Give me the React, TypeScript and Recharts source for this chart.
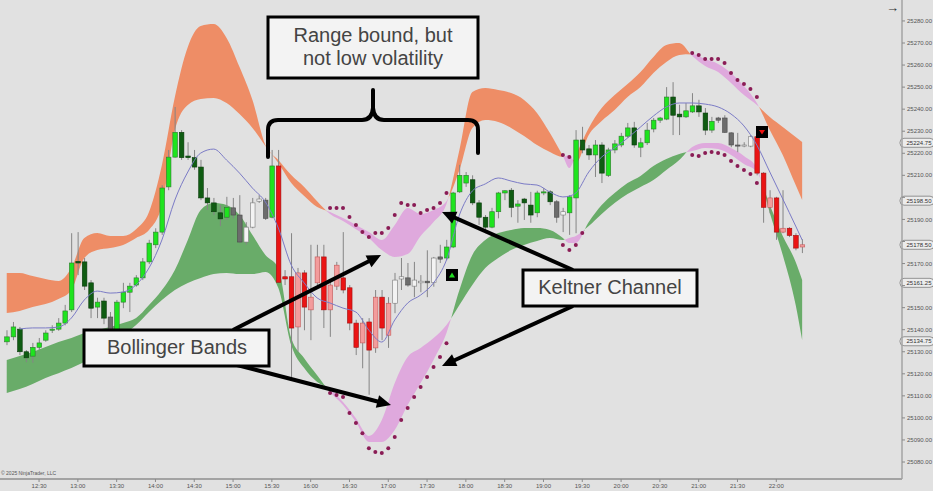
import React from 'react';
import { ComposedChart, XAxis, YAxis, Bar, Line, Area, ReferenceLine } from 'recharts';

const FONT = "'Liberation Sans', Arial, sans-serif";

// ---------- data ----------
const firstCandle = '12:05';
const candleMinutes = 5;

const openP = [25134.5,25136.75,25140.25,25130,25128,25132,25135.25,25139.75,25140.25,25143,
 25149,25171,25170.75,25161.25,25150.25,25153,25145.75,25139.75,25152.5,25157,
 25160.25,25163.5,25170.75,25178.5,25184.25,25204.75,25218.25,25229.5,25218.75,25218,
 25213.75,25199.75,25197.5,25193,25191,25195.25,25192,25179.75,25186.5,25198.25,
 25198.75,25191,25214.25,25164,25164,25141.25,25165.75,25149,25161.25,25173,
 25149,25159.75,25163.5,25159,25143,25134,25143.5,25131.75,25154.75,25137.5,
 25152,25163,25163.5,25159.75,25161.25,25162,25161.5,25173,25172.5,25177.5,
 25202.5,25206.5,25208,25197.5,25191,25186.5,25193.5,25202,25203.25,25196,
 25199.25,25196.5,25193,25202,25202.5,25198,25192,25193,25199.75,25226,
 25222,25219.25,25223.75,25210,25221.5,25223.75,25227.75,25231.5,25222.75,25224.75,
 25231,25235,25235.5,25245.5,25237.75,25236.5,25238.75,25241.5,25238.25,25230.5,
 25236,25236,25229.25,25223.75,25223.25,25223.25,25227.5,25211,25195.5,25199.75,
 25184.25,25186,25182.75,25177.5];

const highP = [25139.75,25143.5,25141.25,25130.75,25134,25136.25,25139.75,25142,25145.25,25151.25,
 25183.75,25184.25,25172.5,25162.5,25154.5,25154.5,25148,25153.5,25161.25,25161.25,
 25164.75,25172.5,25180.75,25186,25205.5,25221.5,25241,25230.5,25225,25221.5,
 25217,25204.25,25199.75,25196.5,25200.25,25199.75,25201,25188.75,25199.75,25201,
 25199.75,25221.5,25221.5,25167,25183.75,25168,25167,25178.5,25178.5,25178.5,
 25162.5,25170.75,25184.25,25160.25,25144.5,25145.25,25145.25,25158,25158,25154.75,
 25165.75,25172.5,25170.25,25170.75,25164.75,25176,25173,25178.5,25180.75,25202.5,
 25214.75,25211.5,25210,25198.75,25192,25195.25,25202.5,25203.25,25204.25,25198.75,
 25199.75,25202.5,25203,25204.25,25203.25,25198.75,25195.25,25201,25230.5,25232,
 25223.75,25226,25225,25222.5,25226,25229.25,25233.75,25234.25,25227,25233.75,
 25236,25236.5,25250,25252.25,25242,25242.75,25247.25,25244.25,25240.5,25236.5,
 25236.5,25237.25,25229.5,25229.25,25225,25228.25,25229.25,25211.5,25203.25,25200.25,
 25203.25,25186.5,25183.75,25181];

const lowP = [25133,25135.25,25128.5,25125.25,25125,25130.75,25134.5,25138.5,25139.5,25142,
 25148,25164.75,25158,25145.25,25145.25,25142.5,25137.5,25139,25149.75,25148,
 25159.5,25162.5,25169.75,25177,25183,25203.25,25218,25217,25217,25212.5,
 25198.75,25194.25,25192,25187,25189.75,25190.5,25179.25,25178.5,25186,25197.5,
 25189.75,25190.5,25161.25,25160.25,25118.5,25130,25139.75,25135.25,25160.25,25140.75,
 25136.75,25158,25156.5,25139.75,25128.5,25122.5,25110.5,25129.5,25135.25,25131.75,
 25147.5,25158,25159.5,25154.75,25157,25154.75,25159.5,25170.25,25171.5,25177,
 25202,25204.75,25196.5,25187.5,25183.75,25186,25190.5,25198.75,25191,25188.5,
 25189.75,25188.5,25191,25201,25196.5,25188.5,25184.25,25183,25183.75,25220,
 25217,25209.25,25206.5,25209.25,25220,25222.75,25227,25222.5,25218.25,25223.75,
 25229.5,25233.75,25235,25228.25,25228.25,25236,25238.25,25236.5,25228.25,25229.25,
 25233.75,25229.25,25222.75,25220.5,25222.75,25222.75,25210,25188.5,25192.75,25180.75,
 25183.75,25182,25176,25174.75];

const closeP = [25136.75,25141.25,25130,25127.25,25132,25134,25138.5,25140.25,25143,25148.5,
 25170.25,25170.25,25159.75,25149.75,25152.5,25145.25,25139.75,25152.5,25157,25159.75,
 25163.5,25170.75,25179.25,25184.25,25204.25,25218.25,25229.5,25218,25218,25213.75,
 25199.75,25197.5,25193.5,25190.25,25195.5,25192,25179.75,25186.5,25197.5,25199.25,
 25190.5,25214.25,25161.5,25163,25140.75,25165.75,25150.25,25154.75,25173,25149,
 25160.25,25169.25,25158,25143,25132,25143,25130.75,25154.75,25140.75,25152,
 25162.5,25164,25160.25,25162.5,25162,25161.25,25172.5,25172,25177.5,25202,
 25210,25210,25197.5,25191,25186.5,25193.5,25202,25203,25195.5,25197,
 25197.5,25192,25202,25202.5,25198,25191,25193.5,25200.25,25226,25221.5,
 25219.25,25223.75,25211,25221.5,25224.25,25227.75,25231.5,25223.75,25224.75,25230.5,
 25235,25236,25245.5,25237.25,25236.5,25239.25,25241.5,25238.75,25230.5,25234.5,
 25235,25229.5,25223.75,25223.25,25223.75,25227.5,25211,25195.5,25199.75,25184.25,
 25186,25182.75,25177,25178.5];

// trend colouring of each bar: g = up-trend, r = down-trend, n = neutral
const trendCode =
  'gggggggggggggggg' + 'n' + 'gggggggggggggggggg' + 'nnnnnn' + 'g' +
  'rrrrrrrrrrrrrrrrrr' + 'nnnnnnnn' + 'ggggggggggggggggg' + 'nn' +
  'ggggggggggggggggggggggg' + 'nnnnnn' + 'rrrrrrrr';

const bandIdx = [0,2,4,6,8,10,12,14,16,18,20,22,24,26,28,30,32,34,36,38,40,42,44,46,48,50,52,54,56,58,
 60,62,64,66,68,70,72,74,76,78,80,82,84,86,87,88,90,92,94,96,98,100,102,104,106,108,110,112,114,116,118,120,122,123];

const bbUpper = [25165.7,25165.7,25164.3,25163.0,25162.1,25168.0,25181.6,25183.8,25182.5,25182.5,
 25185.6,25193.4,25214.7,25245.5,25268.2,25277.7,25278.6,25272.3,25259.1,25244.2,
 25223.7,25216.9,25210.1,25204.7,25198.3,25192.5,25189.3,25185.6,25181.6,25176.1,
 25173.0,25174.3,25182.5,25188.8,25197.0,25221.5,25247.8,25249.6,25248.7,25247.3,
 25244.2,25238.3,25229.2,25218.8,25213.3,25219.2,25231.5,25240.5,25246.4,25251.4,
 25256.9,25263.7,25269.1,25270.0,25264.1,25259.6,25256.9,25251.9,25246.4,25241.9,
 25236.4,25231.9,25227.4,25225.1];

const kcUpper = [25147.6,25148.5,25150.3,25151.6,25153.9,25158.0,25172.5,25176.1,25177.0,25178.4,
 25181.6,25185.2,25196.5,25230.5,25241.9,25244.6,25245.1,25242.8,25237.8,25231.5,
 25223.3,25215.6,25206.5,25200.6,25195.6,25193.4,25190.6,25187.5,25184.3,25180.7,
 25187.5,25195.2,25192.5,25194.3,25198.3,25212.4,25231.5,25235.1,25234.2,25231.5,
 25227.8,25223.7,25220.6,25218.3,25219.2,25215.6,25228.3,25234.6,25239.6,25245.5,
 25250.0,25256.4,25261.4,25264.6,25265.0,25262.7,25260.5,25256.4,25250.5,25242.8,
 25230.5,25219.2,25205.6,25198.8];

const kcLower = [25126.3,25128.1,25129.9,25132.1,25134.4,25136.2,25138.5,25139.8,25141.2,25143.0,
 25145.3,25151.2,25158.0,25167.1,25180.7,25194.3,25197.4,25196.5,25192.0,25182.9,
 25173.9,25168.0,25136.2,25127.1,25119.4,25111.7,25105.8,25098.1,25089.1,25089.1,
 25094.5,25105.8,25115.8,25126.3,25138.5,25158.0,25173.9,25180.7,25183.8,25185.2,
 25186.1,25186.1,25185.2,25181.6,25179.3,25179.3,25188.8,25196.5,25202.0,25206.5,
 25209.7,25214.2,25217.4,25219.7,25221.0,25222.4,25221.9,25219.2,25215.1,25211.5,
 25196.5,25182.5,25170.7,25162.5];

const bbLower = [25111.3,25113.1,25115.4,25118.1,25120.3,25122.6,25125.3,25128.5,25133.0,25137.6,
 25142.1,25148.0,25153.5,25158.0,25161.2,25163.4,25165.2,25165.7,25165.2,25165.2,
 25166.2,25158.9,25133.0,25122.6,25116.3,25113.1,25107.2,25099.9,25091.8,25099.0,
 25115.8,25127.6,25131.7,25136.2,25142.1,25151.2,25160.3,25168.0,25172.5,25176.1,
 25178.4,25180.2,25181.6,25180.7,25181.6,25182.5,25187.0,25192.5,25197.4,25201.5,
 25204.7,25207.9,25212.4,25216.9,25222.8,25224.7,25224.7,25222.4,25218.8,25213.3,
 25192.9,25173.9,25151.2,25135.3];

const midLine = [null,25140.3,25140.8,25140.8,25141.2,25145.3,25153.5,25157.5,25156.6,25157.1,
 25160.3,25168.0,25180.7,25198.8,25211.5,25220.1,25221.9,25216.9,25211.0,25204.2,
 25197.9,25186.1,25169.3,25161.2,25154.4,25152.1,25149.8,25148.0,25139.8,25134.4,
 25144.4,25152.1,25155.7,25161.2,25171.6,25192.0,25202.9,25206.1,25208.8,25207.4,
 25206.1,25205.6,25202.4,25200.2,25200.6,25202.0,25211.5,25218.3,25222.4,25226.9,
 25231.9,25236.9,25241.0,25242.8,25242.8,25242.3,25241.0,25237.8,25232.4,25223.7,
 25211.5,25199.3,25187.0,25180.7];

const upDotIdx = [50,51,52,53,54,55,56,57,58,59,60,61,62,63,64,65,66,67,68,86,87,106,107,108,109,110,111,112,113,114,115,116];
const upDotVal = [25195.2,25195.2,25195.2,25191.1,25187.5,25184.3,25182.0,25183.8,25183.8,25186.1,
 25192.0,25197.4,25196.5,25196.5,25192.9,25194.3,25195.2,25197.4,25202.0,25219.2,25218.3,
 25265.5,25264.6,25262.7,25262.7,25262.7,25260.9,25256.4,25253.2,25251.4,25249.1,25245.5];

const loDotIdx = [50,51,52,53,54,55,56,57,58,59,60,61,62,63,64,65,66,67,68,86,87,88,89,106,107,108,109,110,111,112,113,114,115,116];
const loDotVal = [25111.3,25110.4,25109.5,25102.2,25097.7,25093.1,25086.3,25084.5,25084.1,25086.3,
 25091.3,25099.0,25104.5,25109.5,25114.0,25118.5,25123.1,25127.6,25133.9,25178.4,25176.1,25178.4,25183.8,
 25219.2,25218.8,25220.1,25220.6,25220.1,25219.2,25216.5,25214.2,25212.4,25210.6,25206.5];

const timeTicks = ['12:30','13:00','13:30','14:00','14:30','15:00','15:30','16:00','16:30','17:00',
 '17:30','18:00','18:30','19:00','19:30','20:00','20:30','21:00','21:30','22:00'];
const priceTicks = [25080,25090,25100,25110,25120,25130,25140,25150,25160,25170,25180,25190,25200,
 25210,25220,25230,25240,25250,25260,25270,25280];
const priceMarkers = [25224.75, 25198.5, 25178.5, 25161.25, 25134.75];

// ---------- derived tables ----------
const toMin = (s: string) => { const [h, m] = s.split(':').map(Number); return h * 60 + m; };
const pad = (n: number) => (n < 10 ? '0' + n : '' + n);
const fmtTime = (t: number) => `${Math.floor(t / 60)}:${pad(t % 60)}`;
const t0 = toMin(firstCandle);
const tOf = (i: number) => t0 + i * candleMinutes;

const candles = openP.map((o, i) => ({ t: tOf(i), o, h: highP[i], l: lowP[i], c: closeP[i], k: trendCode[i] }));
const bands = bandIdx.map((i, j) => ({
  t: tOf(i), bbU: bbUpper[j], kcU: kcUpper[j], kcL: kcLower[j], bbL: bbLower[j], mid: midLine[j],
}));
const upDots = upDotIdx.map((i, j) => ({ t: tOf(i), v: upDotVal[j] }));
const loDots = loDotIdx.map((i, j) => ({ t: tOf(i), v: loDotVal[j] }));
const tickTimes = timeTicks.map(toMin);

const ORANGE = '#ee8d66';
const PINK = '#dfa9dd';
const GREEN = '#69ac69';

function crossStops(rows: any[], a: string, b: string, colA: string, colB: string) {
  const s0 = rows[0].t;
  const span = rows[rows.length - 1].t - s0;
  const stops: [number, string][] = [];
  let pos = rows[0][a] >= rows[0][b];
  stops.push([0, pos ? colA : colB]);
  for (let j = 1; j < rows.length; j++) {
    const d1 = rows[j][a] - rows[j][b];
    const p = d1 >= 0;
    if (p !== pos) {
      const d0 = rows[j - 1][a] - rows[j - 1][b];
      const f = d0 / (d0 - d1);
      const tc = rows[j - 1].t + f * (rows[j].t - rows[j - 1].t);
      const off = (tc - s0) / span;
      stops.push([off, pos ? colA : colB]);
      stops.push([off, p ? colA : colB]);
      pos = p;
    }
  }
  stops.push([1, pos ? colA : colB]);
  return stops;
}
const upperStops = crossStops(bands, 'bbU', 'kcU', ORANGE, PINK);
const lowerStops = crossStops(bands, 'kcL', 'bbL', GREEN, PINK);

const CANDLE_COLORS: Record<string, [string, string]> = {
  gU: ['#1ee41e', '#2f7a2f'],
  gD: ['#0f5c12', '#093a0b'],
  rU: ['#f39c9c', '#c45858'],
  rD: ['#ea1414', '#a01010'],
  nU: ['#f3f3f3', '#7a7a7a'],
  nD: ['#6c6c6c', '#4a4a4a'],
};

function Candle(props: any) {
  const { x, y, width, height } = props;
  const p = props.payload ?? props;
  if (x == null || y == null || p == null || p.h == null) return null;
  const top = Math.min(y, y + height);
  const h = Math.abs(height);
  const span = p.h - p.l;
  const py = (v: number) => (span > 0 ? top + ((p.h - v) / span) * h : top);
  const cx = x + width / 2;
  const up = p.c >= p.o;
  const [fill, stroke] = CANDLE_COLORS[p.k + (up ? 'U' : 'D')];
  const bTop = py(Math.max(p.o, p.c));
  const bBot = py(Math.min(p.o, p.c));
  const bw = 4.6;
  return (
    <g>
      <line x1={cx} x2={cx} y1={top} y2={top + h} stroke="#858585" strokeWidth={1} />
      <rect x={cx - bw / 2} y={bTop} width={bw} height={Math.max(1, bBot - bTop)} fill={fill} stroke={stroke} strokeWidth={0.6} />
    </g>
  );
}

// y-axis labels that sit under a price marker are covered by it in the reference
function PriceTick(props: any) {
  const { x, y, payload } = props;
  const v = payload?.value;
  if (v == null) return <g />;
  if (priceMarkers.some((m) => Math.abs(m - v) < 2.6)) return <g />;
  return (
    <text x={x} y={y} dy="0.355em" textAnchor="start" fontSize={6} fill="#555" fontFamily={FONT}>
      {Number(v).toFixed(2)}
    </text>
  );
}

const markerLabel = (v: number) => (props: any) => {
  const vb = props.viewBox;
  if (!vb) return null;
  const x = vb.x + vb.width;
  const y = vb.y;
  return (
    <g>
      <rect x={x - 2} y={y - 4.5} width={34} height={9} rx={4} fill="#ececec" stroke="#7c7c7c" strokeWidth={0.8} />
      <text x={x + 4.5} y={y + 2.2} fontSize={6} fill="#333" fontFamily={FONT}>{v.toFixed(2)}</text>
    </g>
  );
};

function Arrow({ x1, y1, x2, y2 }: { x1: number; y1: number; x2: number; y2: number }) {
  const dx = x2 - x1, dy = y2 - y1;
  const len = Math.hypot(dx, dy);
  const ux = dx / len, uy = dy / len;
  const hl = 14, hw = 6.5;
  const bx = x2 - ux * hl, by = y2 - uy * hl;
  const pts = `${x2},${y2} ${bx - uy * hw},${by + ux * hw} ${bx + uy * hw},${by - ux * hw}`;
  return (
    <g>
      <line x1={x1} y1={y1} x2={bx + ux * 2} y2={by + uy * 2} stroke="#000" strokeWidth={4} />
      <polygon points={pts} fill="#000" />
    </g>
  );
}

function Annotations() {
  const boxStyle = { fill: '#f3f3f3', stroke: '#000', strokeWidth: 3 };
  const txt = { fontFamily: FONT, fontSize: 20, fill: '#444', textAnchor: 'middle' as const };
  return (
    <svg width={933} height={491} style={{ position: 'absolute', left: 0, top: 0, pointerEvents: 'none' }}>
      <path
        d="M 268 157 L 268 130 Q 268 120 278 120 L 362 120 Q 372 120 373 108 L 373 90 M 373 108 Q 374 120 384 120 L 468 120 Q 478 120 478 130 L 478 153"
        fill="none" stroke="#000" strokeWidth={4} strokeLinecap="round" strokeLinejoin="round"
      />
      <rect x={268} y={17} width={210} height={61} {...boxStyle} />
      <text x={373} y={42} {...txt}>Range bound, but</text>
      <text x={373} y={65} {...txt}>not low volatility</text>

      <Arrow x1={233} y1={330} x2={381} y2={255} />
      <Arrow x1={237} y1={365} x2={391} y2={405} />
      <rect x={84} y={330} width={185} height={36} {...boxStyle} />
      <text x={177} y={354} {...txt}>Bollinger Bands</text>

      <Arrow x1={573} y1={270} x2={442} y2={212} />
      <Arrow x1={573} y1={306} x2={442} y2={366} />
      <rect x={523} y={270} width={174} height={36} {...boxStyle} />
      <text x={610} y={294} {...txt}>Keltner Channel</text>

      <rect x={446} y={269} width={12} height={12} fill="#000" />
      <polygon points="452,272.5 449,277.5 455,277.5" fill="#22dd22" />
      <rect x={756} y={126} width={12} height={12} fill="#000" />
      <polygon points="759,130 765,130 762,134.5" fill="#ee1111" />

      <text x={886} y={12} fontSize={13} fill="#333" fontFamily={FONT}>→</text>
      <text x={1} y={475} fontSize={5} fill="#555" fontFamily={FONT}>© 2025 NinjaTrader, LLC</text>
    </svg>
  );
}

export default function App() {
  return (
    <div style={{ position: 'absolute', left: 0, top: 0, width: 933, height: 491, background: '#e1e1e1', overflow: 'hidden' }}>
      <ComposedChart width={933} height={491} data={candles} margin={{ top: 0, right: 0, bottom: 0, left: 0 }}>
        <defs>
          <linearGradient id="gUp" x1="0" y1="0" x2="1" y2="0">
            {upperStops.map((s, i) => <stop key={i} offset={s[0]} stopColor={s[1]} />)}
          </linearGradient>
          <linearGradient id="gLo" x1="0" y1="0" x2="1" y2="0">
            {lowerStops.map((s, i) => <stop key={i} offset={s[0]} stopColor={s[1]} />)}
          </linearGradient>
        </defs>
        <XAxis
          dataKey="t" type="number" domain={[719.8, 1417.2]} allowDataOverflow ticks={tickTimes}
          tickFormatter={fmtTime} height={12} tickSize={3} interval={0}
          axisLine={{ stroke: '#a3a3a3', strokeWidth: 2 }} tickLine={{ stroke: '#8a8a8a' }}
          tick={{ fontSize: 6, fill: '#555', fontFamily: FONT }}
        />
        <YAxis
          orientation="right" type="number" domain={[25072.3, 25289.5]} allowDataOverflow ticks={priceTicks}
          width={31} tickSize={3} interval={0}
          axisLine={{ stroke: '#a3a3a3', strokeWidth: 1.5 }} tickLine={{ stroke: '#8a8a8a' }}
          tick={(p: any) => <PriceTick {...p} />}
        />
        <Area data={bands} dataKey={(d: any) => [d.kcU, d.bbU]} type="monotone" stroke="none" fill="url(#gUp)" fillOpacity={1} isAnimationActive={false} dot={false} activeDot={false} />
        <Area data={bands} dataKey={(d: any) => [d.bbL, d.kcL]} type="monotone" stroke="none" fill="url(#gLo)" fillOpacity={1} isAnimationActive={false} dot={false} activeDot={false} />
        <Line data={bands} dataKey="mid" type="monotone" stroke="#7b7bc6" strokeWidth={1} dot={false} activeDot={false} isAnimationActive={false} />
        <Bar dataKey={(d: any) => [d.l, d.h]} barSize={5} shape={(p: any) => <Candle {...p} />} isAnimationActive={false} />
        <Line data={upDots} dataKey="v" stroke="none" dot={{ r: 2, fill: '#8a1c55', stroke: 'none' }} activeDot={false} isAnimationActive={false} />
        <Line data={loDots} dataKey="v" stroke="none" dot={{ r: 2, fill: '#8a1c55', stroke: 'none' }} activeDot={false} isAnimationActive={false} />
        {priceMarkers.map((v) => (
          <ReferenceLine key={v} y={v} stroke="none" label={markerLabel(v)} />
        ))}
      </ComposedChart>
      <Annotations />
    </div>
  );
}
